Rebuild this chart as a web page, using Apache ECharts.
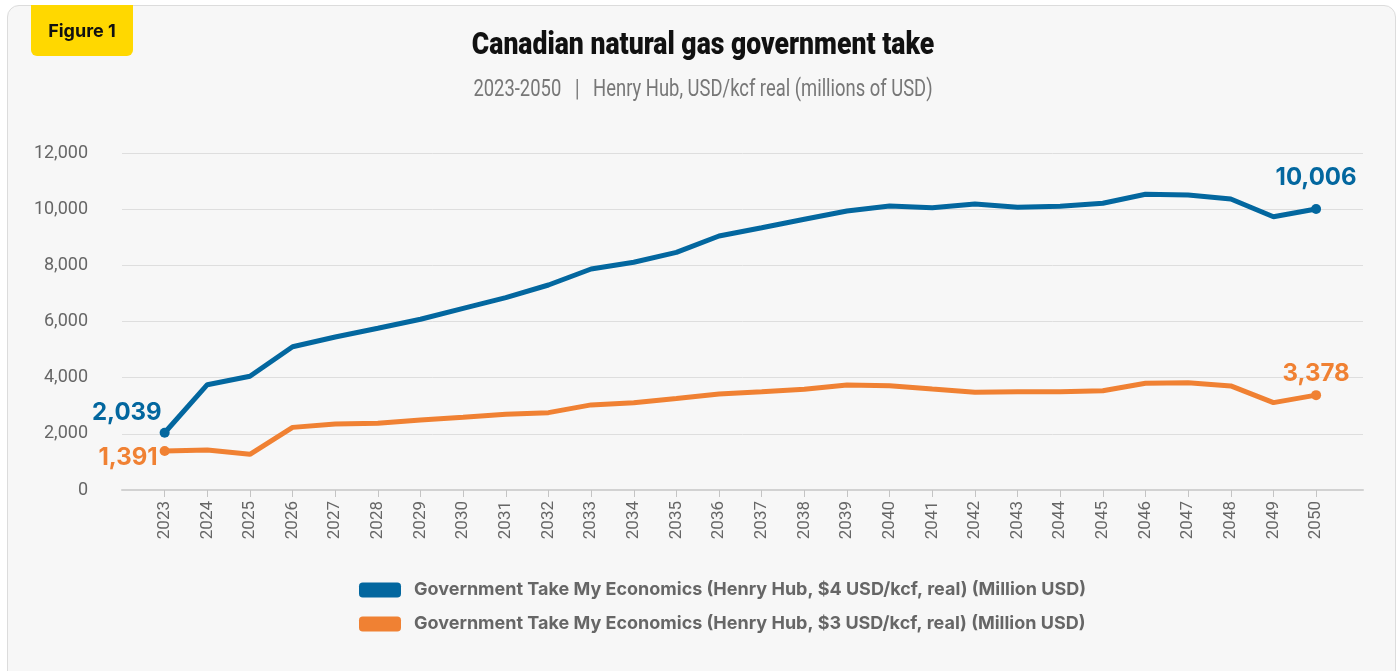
<!DOCTYPE html>
<html>
<head>
<meta charset="utf-8">
<title>Canadian natural gas government take</title>
<script src="https://cdn.jsdelivr.net/npm/echarts@6/dist/echarts.min.js"></script>
<style>
  html, body { margin: 0; padding: 0; background: #ffffff; }
  #card {
    position: absolute; left: 7px; top: 5px; width: 1387px; height: 700px;
    background: #f7f7f7; border: 1px solid #dcdcdc; border-radius: 12px;
  }
  #chart { position: absolute; left: 0; top: 0; width: 1400px; height: 671px; }
</style>
</head>
<body>
<div id="card"></div>
<div id="chart"></div>
<script>
const years = [2023, 2024, 2025, 2026, 2027, 2028, 2029, 2030, 2031, 2032, 2033, 2034, 2035, 2036,
  2037, 2038, 2039, 2040, 2041, 2042, 2043, 2044, 2045, 2046, 2047, 2048, 2049, 2050]

// Henry Hub $4 USD/kcf
const take4 = [2039, 3750, 4050, 5100, 5450, 5760, 6080, 6470, 6850, 7300, 7870, 8110, 8460, 9045,
  9340, 9640, 9935, 10110, 10050, 10180, 10065, 10100, 10210, 10530, 10505, 10360, 9730, 10006]

// Henry Hub $3 USD/kcf
const take3 = [1391, 1425, 1270, 2230, 2350, 2375, 2490, 2590, 2695, 2755, 3030, 3110, 3260, 3420,
  3500, 3585, 3740, 3715, 3595, 3480, 3500, 3500, 3535, 3800, 3820, 3705, 3110, 3378]

const seriesNames = [
  'Government Take My Economics (Henry Hub, $4 USD/kcf, real) (Million USD)',
  'Government Take My Economics (Henry Hub, $3 USD/kcf, real) (Million USD)'
]
const yTicks = [0, 2000, 4000, 6000, 8000, 10000, 12000]

const blue = '#03679f'
const orange = '#f08133'
const axisFont = 'Roboto, "Noto Sans", sans-serif'
const labelFont = 'Inter, "Noto Sans", sans-serif'

const fmt = v => v.toLocaleString('en-US')

// first and last point carry a dot and a value label
function buildData (values, color, firstLabel, lastLabel) {
  return values.map((v, i) => {
    const item = { value: [years[i], v] }
    const last = values.length - 1
    if (i === 0 || i === last) {
      item.symbol = 'circle'
      item.symbolSize = 10
      item.label = Object.assign({
        show: true,
        formatter: fmt(v),
        color: color,
        fontFamily: labelFont,
        fontWeight: 700,
        fontSize: 24
      }, i === 0 ? firstLabel : lastLabel)
    }
    return item
  })
}

const chart = echarts.init(document.getElementById('chart'))
chart.setOption({
  backgroundColor: 'transparent',
  animation: false,
  graphic: [{
    type: 'rect',
    left: 31,
    top: 5,
    shape: { width: 102, height: 51, r: [0, 0, 6, 6] },
    style: { fill: '#ffd800' },
    z: 100
  }, {
    type: 'text',
    x: 82,
    y: 32,
    style: {
      text: 'Figure 1',
      fill: '#111111',
      align: 'center',
      verticalAlign: 'middle',
      font: 'bold 18px Inter, "Noto Sans", sans-serif'
    },
    z: 101
  }, {
    // title, narrowed to mimic the condensed face
    type: 'text',
    x: 703,
    y: 46,
    scaleX: 0.83,
    style: {
      text: 'Canadian natural gas government take',
      fill: '#111111',
      align: 'center',
      verticalAlign: 'middle',
      font: '900 32px Roboto, "Noto Sans", sans-serif'
    }
  }, {
    type: 'text',
    x: 703,
    y: 90,
    scaleX: 0.8,
    style: {
      text: '2023-2050   |   Henry Hub, USD/kcf real (millions of USD)',
      fill: '#777777',
      align: 'center',
      verticalAlign: 'middle',
      font: '23px Roboto, "Noto Sans", sans-serif'
    }
  }],
  legend: {
    orient: 'vertical',
    left: 354,
    top: 576,
    itemWidth: 42,
    itemHeight: 15,
    itemGap: 16,
    icon: 'roundRect',
    data: seriesNames,
    textStyle: {
      fontFamily: labelFont,
      fontWeight: 700,
      fontSize: 18,
      color: '#666666',
      padding: [0, 0, 0, 8]
    }
  },
  grid: {
    left: 122,
    right: 37,
    top: 153,
    bottom: 181
  },
  xAxis: {
    type: 'value',
    min: 2022,
    max: 2051.1,
    interval: 1,
    splitLine: { show: false },
    axisLine: { show: true, lineStyle: { color: '#d2d2d2', width: 2 } },
    axisTick: {
      show: true,
      customValues: years,
      length: 7,
      lineStyle: { color: '#c4c4c4', width: 1 }
    },
    axisLabel: {
      customValues: years,
      rotate: 90,
      margin: 11,
      color: '#666666',
      fontFamily: axisFont,
      fontSize: 17,
      formatter: v => String(v)
    }
  },
  yAxis: {
    type: 'value',
    min: 0,
    max: 12000,
    interval: 2000,
    axisLine: { show: false },
    axisTick: { show: false },
    splitLine: { lineStyle: { color: '#dedede', width: 1 } },
    axisLabel: {
      margin: 34,
      color: '#666666',
      fontFamily: axisFont,
      fontSize: 18,
      customValues: yTicks,
      formatter: v => fmt(v)
    }
  },
  series: [{
    name: seriesNames[0],
    type: 'line',
    symbol: 'none',
    color: blue,
    lineStyle: { width: 5, color: blue },
    itemStyle: { color: blue },
    data: buildData(take4, blue,
      { position: 'left', distance: 3, offset: [5, -20] },
      { position: 'top', distance: 14 })
  }, {
    name: seriesNames[1],
    type: 'line',
    symbol: 'none',
    color: orange,
    lineStyle: { width: 5, color: orange },
    itemStyle: { color: orange },
    data: buildData(take3, orange,
      { position: 'left', distance: 6, offset: [4, 7] },
      { position: 'top', distance: 4 })
  }]
})
</script>
</body>
</html>
